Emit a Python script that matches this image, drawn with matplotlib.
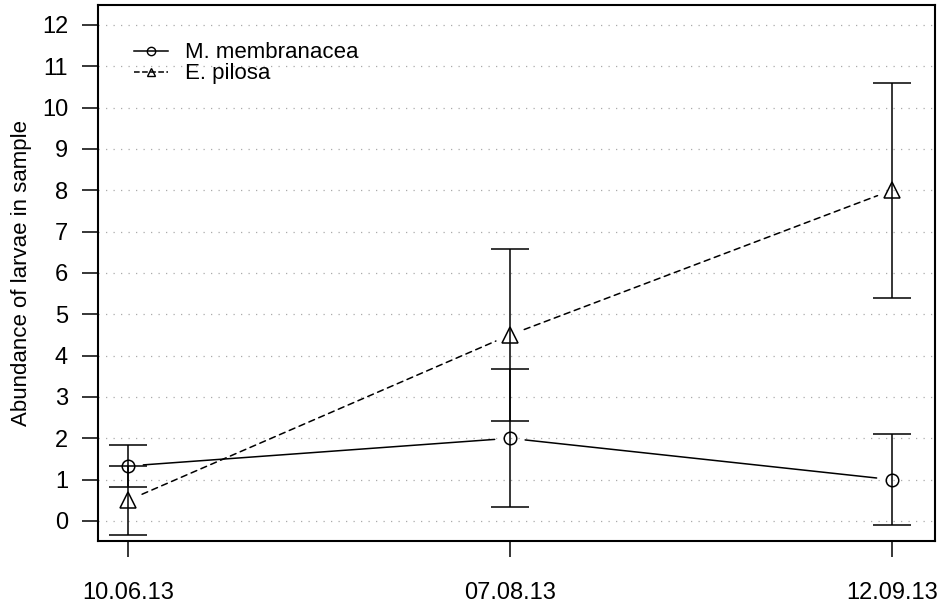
import matplotlib
matplotlib.use('Agg')
import matplotlib.pyplot as plt

plt.rcParams['font.family'] = ['Liberation Sans', 'DejaVu Sans']

dates = ['10.06.13', '07.08.13', '12.09.13']
memb_mean = [1.33, 2.0, 1.0]
memb_err = [0.5, 1.67, 1.1]
pilosa_mean = [0.5, 4.5, 8.0]
pilosa_err = [0.83, 2.08, 2.6]


def main():
    fig = plt.figure(figsize=(9.41, 6.07), dpi=100)
    ax = fig.add_axes([0.104, 0.109, 0.8896, 0.8828])
    x = list(range(len(dates)))

    ax.set_ylim(-0.48, 12.48)
    ax.set_xlim(-0.079, 2.113)
    for v in range(13):
        ax.axhline(v, color='#aaaaaa', lw=0.9, ls=(0, (1, 5)), zorder=0)

    # error bars (drawn through the markers, R style)
    ax.errorbar(x, memb_mean, yerr=memb_err, fmt='none', ecolor='black',
                elinewidth=1.1, capsize=14, capthick=1.1)
    ax.errorbar(x, pilosa_mean, yerr=pilosa_err, fmt='none', ecolor='black',
                elinewidth=1.1, capsize=14, capthick=1.1)

    # connecting lines with gaps around points (type="b")
    for i in range(len(x) - 1):
        ax.annotate('', xy=(x[i + 1], memb_mean[i + 1]), xytext=(x[i], memb_mean[i]),
                    arrowprops=dict(arrowstyle='-', color='black', lw=1.1,
                                    shrinkA=11, shrinkB=11))
        ax.annotate('', xy=(x[i + 1], pilosa_mean[i + 1]), xytext=(x[i], pilosa_mean[i]),
                    arrowprops=dict(arrowstyle='-', color='black', lw=1.1, ls=(0, (4, 3)),
                                    shrinkA=11, shrinkB=11))

    ax.plot(x, memb_mean, 'o', ms=9, mfc='none', mec='black', mew=1.1)
    ax.plot(x, pilosa_mean, '^', ms=11, mfc='none', mec='black', mew=1.1)

    # legend proxies
    h1, = ax.plot([], [], '-o', color='black', ms=6, mfc='none', lw=1.1)
    h2, = ax.plot([], [], '--^', color='black', ms=6, mfc='none', lw=1.1)
    ax.legend([h1, h2], ['M. membranacea', 'E. pilosa'], loc='upper left',
              frameon=False, fontsize=16, handlelength=1.55, handletextpad=0.75,
              labelspacing=0.0, borderpad=0, borderaxespad=0,
              bbox_to_anchor=(0.043, 0.93))

    ax.set_xticks(x)
    ax.set_xticklabels(dates)
    ax.set_yticks(range(13))
    ax.tick_params(axis='both', labelsize=17, length=11.5, width=1.1)
    ax.tick_params(axis='x', pad=18)
    ax.tick_params(axis='y', pad=10)
    for s in ax.spines.values():
        s.set_linewidth(1.5)
    ax.set_ylabel('Abundance of larvae in sample', fontsize=16, labelpad=7)

    fig.savefig('out.png', dpi=100)

main()
